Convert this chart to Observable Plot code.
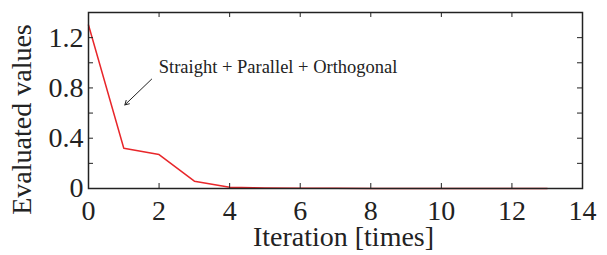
<!DOCTYPE html>
<html>
<head>
<meta charset="utf-8">
<script src="https://cdn.jsdelivr.net/npm/d3@7"></script>
<script src="https://cdn.jsdelivr.net/npm/@observablehq/plot@0.6"></script>
<style>
  html, body { margin: 0; padding: 0; background: #fff; }
  svg { display: block; }
</style>
</head>
<body>
<div id="chart"></div>
<script>
const iterations = [0, 1, 2, 3, 4, 5, 6, 7, 8, 9, 10, 11, 12, 13];
const values = [1.30, 0.32, 0.27, 0.058, 0.01, 0.003, 0.001, 0.001, 0.0005, 0.0005, 0.0003, 0.0003, 0.0002, 0.0002];
const xTicks = [0, 2, 4, 6, 8, 10, 12, 14];
const yTicks = [0, 0.4, 0.8, 1.2];
const yMinorTicks = [0, 0.2, 0.4, 0.6, 0.8, 1.0, 1.2, 1.4];
const annotationText = ["Straight + Parallel + Orthogonal"];
const annotationPos = [{x: 1.99, y: 0.965}];
const arrow = [{x1: 1.79, y1: 0.87, x2: 1.03, y2: 0.665}];

const data = iterations.map((x, i) => ({x, y: values[i]}));

const W = 607, H = 255;
const mL = 88, mR = 25, mT = 12, mB = 67;
const fw = W - mL - mR, fh = H - mT - mB;
const tl = 5;

const font = "Liberation Serif";

const chart = Plot.plot({
  width: W,
  height: H,
  marginLeft: mL,
  marginRight: mR,
  marginTop: mT,
  marginBottom: mB,
  style: {fontFamily: font, color: "#222", background: "#fff"},
  x: {domain: [0, 14]},
  y: {domain: [0, 1.4]},
  marks: [
    Plot.line(data, {x: "x", y: "y", stroke: "#e8262a", strokeWidth: 1.5}),
    // inward ticks on all four sides
    Plot.tickY(yMinorTicks, {y: d => d, insetRight: fw - tl, stroke: "#222", strokeWidth: 1}),
    Plot.tickY(yMinorTicks, {y: d => d, insetLeft: fw - tl, stroke: "#222", strokeWidth: 1}),
    Plot.tickX(xTicks, {x: d => d, insetTop: fh - tl, stroke: "#222", strokeWidth: 1}),
    Plot.tickX(xTicks, {x: d => d, insetBottom: fh - tl, stroke: "#222", strokeWidth: 1}),
    Plot.frame({stroke: "#222", strokeWidth: 1.5}),
    Plot.axisX({ticks: xTicks, tickSize: 0, tickPadding: 12, fontSize: 28, fontFamily: font, label: null}),
    Plot.axisY({ticks: yTicks, tickSize: 0, tickPadding: 5, fontSize: 28, fontFamily: font, label: null, tickFormat: d => d === 0 ? "0" : d3.format(".1f")(d)}),
    Plot.text(["Iteration [times]"], {frameAnchor: "bottom", lineAnchor: "middle", dx: 8, dy: 49, fontSize: 28, fontFamily: font, fill: "#222"}),
    Plot.text(["Evaluated values"], {frameAnchor: "left", textAnchor: "middle", dx: -66, dy: 19, rotate: -90, fontSize: 28, fontFamily: font, fill: "#222"}),
    Plot.text(annotationText, {x: annotationPos.map(d => d.x), y: annotationPos.map(d => d.y), text: d => d, textAnchor: "start", fontSize: 18.5, fontFamily: font, fill: "#222"}),
    Plot.arrow(arrow, {x1: "x1", y1: "y1", x2: "x2", y2: "y2", stroke: "#222", strokeWidth: 1, headLength: 7})
  ]
});

document.getElementById("chart").appendChild(chart);
</script>
</body>
</html>
